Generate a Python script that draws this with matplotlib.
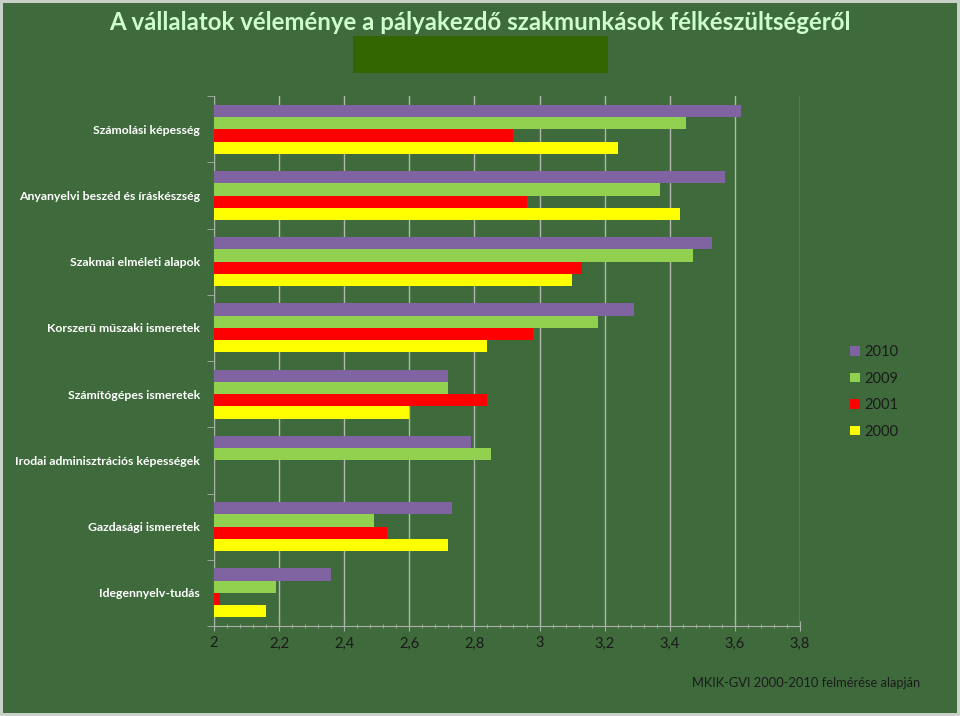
import matplotlib
matplotlib.use("Agg")
import matplotlib.pyplot as plt
from matplotlib.patches import Rectangle
from matplotlib.ticker import MultipleLocator, FixedLocator
import numpy as np

categories = [
    "Számolási képesség",
    "Anyanyelvi beszéd és íráskészség",
    "Szakmai elméleti alapok",
    "Korszerű műszaki ismeretek",
    "Számítógépes ismeretek",
    "Irodai adminisztrációs képességek",
    "Gazdasági ismeretek",
    "Idegennyelv-tudás",
]
years = ["2010", "2009", "2001", "2000"]
v2010 = [3.62, 3.57, 3.53, 3.29, 2.72, 2.79, 2.73, 2.36]
v2009 = [3.45, 3.37, 3.47, 3.18, 2.72, 2.85, 2.49, 2.19]
v2001 = [2.92, 2.96, 3.13, 2.98, 2.84, np.nan, 2.53, 2.02]
v2000 = [3.24, 3.43, 3.10, 2.84, 2.60, np.nan, 2.72, 2.16]
series = [v2010, v2009, v2001, v2000]
colors = ["#8064a2", "#92d050", "#ff0000", "#ffff00"]

bg = "#3f6b3c"
fam = ["Lato", "DejaVu Sans"]

fig = plt.figure(figsize=(9.6, 7.16), dpi=100)
fig.patch.set_facecolor(bg)
fig.patch.set_edgecolor("#c9d2c9")
fig.patch.set_linewidth(4)

ax = fig.add_axes([0.2229, 0.1257, 0.6104, 0.740])
ax.set_facecolor(bg)

base = 2.0
y = np.arange(len(categories))
h = 0.185
for k, (vals, col, lab) in enumerate(zip(series, colors, years)):
    vals = np.array(vals, dtype=float)
    widths = vals - base
    ax.barh(y + (k - 1.5) * h, np.nan_to_num(widths), height=h, left=base,
            color=col, label=lab, zorder=3)

ax.set_xlim(2, 3.8)
ax.set_ylim(len(categories) - 0.5, -0.5)
ax.xaxis.set_major_locator(MultipleLocator(0.2))
ax.xaxis.set_minor_locator(MultipleLocator(0.04))
ax.set_xticklabels([f"{t:g}".replace(".", ",") for t in ax.get_xticks()])
ax.grid(axis="x", color="#b0b8b0", linewidth=1, zorder=0)

ax.set_yticks(y)
ax.set_yticklabels(categories, fontfamily=fam, fontweight="bold",
                   color="white", fontsize=8.8)
ax.yaxis.set_minor_locator(FixedLocator(np.arange(-0.5, len(categories), 1)))
ax.tick_params(axis="y", which="major", length=0, pad=10)
ax.tick_params(axis="y", which="minor", length=5, color="#a8b0a8", direction="out")
ax.tick_params(axis="x", which="major", length=7, color="#a8b0a8",
               direction="inout", labelcolor="#1a1a1a", labelsize=10.5, pad=4)
ax.tick_params(axis="x", which="minor", length=3, color="#a8b0a8", direction="inout")
for lab in ax.get_xticklabels():
    lab.set_fontfamily(fam)

for s in ["top", "right"]:
    ax.spines[s].set_visible(False)
ax.spines["left"].set_color("#a8b0a8")
ax.spines["bottom"].set_color("#a8b0a8")

leg = ax.legend(loc="upper left", bbox_to_anchor=(0.872, 0.536), bbox_transform=fig.transFigure,
                frameon=False, handlelength=0.65, handleheight=0.65, handletextpad=0.3,
                labelspacing=0.85, prop={"family": fam, "size": 10.5})
for t in leg.get_texts():
    t.set_color("#1a1a1a")

fig.patches.append(Rectangle((353 / 960, 1 - 73 / 716), 255 / 960, 37 / 716,
                             transform=fig.transFigure, facecolor="#336600",
                             edgecolor="none", zorder=0))
fig.text(0.5, 1 - 22 / 716, "A vállalatok véleménye a pályakezdő szakmunkások félkészültségéről",
         ha="center", va="center", fontsize=17.3, fontweight="bold",
         color="#ccffcc", fontfamily=fam)
fig.text(0.958, 1 - 683 / 716, "MKIK-GVI 2000-2010 felmérése alapján",
         ha="right", va="center", fontsize=9.3, color="#1a1a1a", fontfamily=fam)

fig.savefig("out.png", dpi=100, facecolor=fig.get_facecolor(), edgecolor=fig.get_edgecolor())
